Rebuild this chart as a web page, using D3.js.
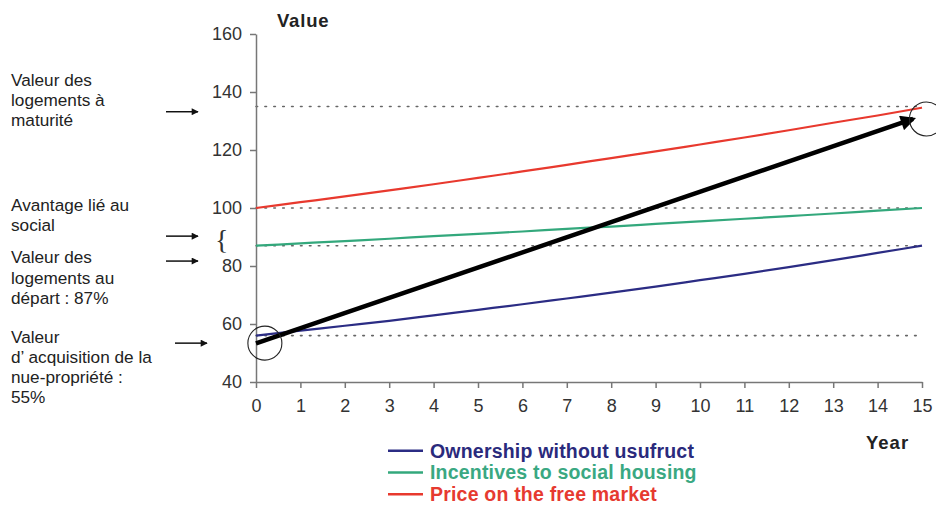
<!DOCTYPE html>
<html>
<head>
<meta charset="utf-8">
<script src="https://cdn.jsdelivr.net/npm/d3@7"></script>
<style>
  html, body { margin: 0; padding: 0; background: #fff; }
  svg { display: block; font-family: "Liberation Sans", Arial, sans-serif; }
</style>
</head>
<body>
<svg id="chart" width="936" height="507"></svg>
<script>
// Years on the horizontal axis
const years = [0, 1, 2, 3, 4, 5, 6, 7, 8, 9, 10, 11, 12, 13, 14, 15];

// Series values per year
const ownershipValues = [56, 57.7, 59.4, 61.1, 63.0, 64.9, 66.8, 68.8, 70.8, 72.9, 75.1, 77.3, 79.6, 82.0, 84.5, 87.0];
const incentiveValues = [87, 87.8, 88.6, 89.4, 90.3, 91.1, 91.9, 92.8, 93.6, 94.5, 95.4, 96.3, 97.2, 98.1, 99.1, 100];
const marketValues    = [100, 102, 104.0, 106.1, 108.2, 110.4, 112.6, 114.9, 117.2, 119.5, 121.9, 124.3, 126.8, 129.4, 131.9, 134.6];

const seriesNames  = ["Ownership without usufruct", "Incentives to social housing", "Price on the free market"];
const seriesColors = ["#2b2c84", "#33a87c", "#e8392e"];
const seriesTextColors = ["#2a2a7c", "#3aa882", "#e63a30"];

// Tick labels
const yTicks = [40, 60, 80, 100, 120, 140, 160];
const xTicks = years;

// Dotted reference levels
const referenceLevels = [135, 100, 87, 56];

// Trend arrow (start and end) and the two highlight circles
const arrowYears  = [0, 14.8];
const arrowValues = [53.3, 130.7];
const circleYears  = [0.2, 15.1];
const circleValues = [53.4, 130.7];

// Left-hand annotations: lines of text and the value each arrow points at
const annotations = [
  { lines: ["Valeur des", "logements à", "maturité"], top: 85.5, arrowValue: 133.2, arrowStart: 166 },
  { lines: ["Avantage lié au", "social"], top: 210.7, arrowValue: 90.3, arrowStart: 166 },
  { lines: ["Valeur des", "logements au", "départ : 87%"], top: 263.3, arrowValue: 81.7, arrowStart: 166 },
  { lines: ["Valeur", "d\u2019 acquisition de la", "nue-propriété :", "55%"], top: 342.7, arrowValue: 53.4, arrowStart: 175 }
];

const svg = d3.select("#chart");

const x = d3.scaleLinear().domain([0, 15]).range([256, 922]);
const y = d3.scaleLinear().domain([40, 160]).range([382, 34]);

// Arrowhead markers
const defs = svg.append("defs");
defs.append("marker")
  .attr("id", "bigHead").attr("viewBox", "0 0 10 10")
  .attr("refX", 8).attr("refY", 5)
  .attr("markerWidth", 4.0).attr("markerHeight", 3.4)
  .attr("markerUnits", "strokeWidth")
  .attr("orient", "auto")
  .append("path").attr("d", "M0,0 L10,5 L0,10 Z").attr("fill", "#000");
defs.append("marker")
  .attr("id", "smallHead").attr("viewBox", "0 0 10 10")
  .attr("refX", 9).attr("refY", 5)
  .attr("markerWidth", 8).attr("markerHeight", 7)
  .attr("markerUnits", "userSpaceOnUse")
  .attr("orient", "auto")
  .append("path").attr("d", "M0,0 L10,5 L0,10 Z").attr("fill", "#111");

// Dotted reference lines
svg.append("g").selectAll("line")
  .data(referenceLevels).join("line")
  .attr("x1", x(0)).attr("x2", x(15))
  .attr("y1", d => y(d)).attr("y2", d => y(d))
  .attr("stroke", "#666").attr("stroke-width", 1.6)
  .attr("stroke-dasharray", "1.6,7.3")
  .attr("stroke-linecap", "round");

// Axes
const yAxis = svg.append("g")
  .attr("transform", `translate(${x(0)},0)`)
  .call(d3.axisLeft(y).tickValues(yTicks).tickSize(6).tickPadding(8).tickSizeOuter(0));
const xAxis = svg.append("g")
  .attr("transform", `translate(0,${y(40)})`)
  .call(d3.axisBottom(x).tickValues(xTicks).tickSize(6).tickPadding(11).tickSizeOuter(0));
[yAxis, xAxis].forEach(g => {
  g.select(".domain").attr("stroke", "#777").attr("stroke-width", 1.5);
  g.selectAll(".tick line").attr("stroke", "#777").attr("stroke-width", 1.5);
  g.selectAll(".tick text")
    .attr("fill", "#333")
    .style("font-family", "'Liberation Sans', Arial, sans-serif")
    .style("font-size", "18px");
});

// Axis titles
svg.append("text").attr("x", 277).attr("y", 27)
  .attr("font-size", 18.5).attr("font-weight", "bold").attr("fill", "#222")
  .attr("letter-spacing", 0.8).text("Value");
svg.append("text").attr("x", 866).attr("y", 449)
  .attr("font-size", 18.5).attr("font-weight", "bold").attr("fill", "#222")
  .attr("letter-spacing", 1).text("Year");

// Series lines
const seriesValues = [ownershipValues, incentiveValues, marketValues];
const line = d3.line()
  .x((d, i) => x(years[i]))
  .y(d => y(d))
  .curve(d3.curveMonotoneX);
svg.append("g").selectAll("path")
  .data(seriesValues).join("path")
  .attr("d", d => line(d))
  .attr("fill", "none")
  .attr("stroke", (d, i) => seriesColors[i])
  .attr("stroke-width", 2.2);

// Trend arrow
svg.append("line")
  .attr("x1", x(arrowYears[0])).attr("y1", y(arrowValues[0]))
  .attr("x2", x(arrowYears[1])).attr("y2", y(arrowValues[1]))
  .attr("stroke", "#000").attr("stroke-width", 4.5)
  .attr("marker-end", "url(#bigHead)");

// Highlight circles
svg.append("g").selectAll("circle")
  .data(circleYears).join("circle")
  .attr("cx", d => x(d))
  .attr("cy", (d, i) => y(circleValues[i]))
  .attr("r", 17)
  .attr("fill", "none").attr("stroke", "#222").attr("stroke-width", 1.1);

// Left annotations with their pointing arrows
const ann = svg.append("g").attr("fill", "#222").attr("font-size", 17.2);
annotations.forEach(a => {
  a.lines.forEach((t, k) => {
    ann.append("text").attr("x", 11).attr("y", a.top + k * 20.2).text(t);
  });
  ann.append("line")
    .attr("x1", a.arrowStart).attr("x2", a.arrowStart + 32)
    .attr("y1", y(a.arrowValue)).attr("y2", y(a.arrowValue))
    .attr("stroke", "#111").attr("stroke-width", 1.5)
    .attr("marker-end", "url(#smallHead)");
});

// Brace spanning the social housing advantage
svg.append("text").attr("x", 215).attr("y", 249)
  .attr("font-family", "'Liberation Serif', serif")
  .attr("font-size", 28).attr("fill", "#333").text("{");

// Legend
const legend = svg.append("g");
seriesNames.forEach((name, i) => {
  const yy = 450.7 + i * 21.8;
  legend.append("line")
    .attr("x1", 388).attr("x2", 423).attr("y1", yy).attr("y2", yy)
    .attr("stroke", seriesColors[i]).attr("stroke-width", 2.4);
  legend.append("text")
    .attr("x", 430).attr("y", yy + 6.8)
    .attr("font-size", 19.5).attr("font-weight", "bold")
    .attr("letter-spacing", 0.2)
    .attr("fill", seriesTextColors[i]).text(name);
});
</script>
</body>
</html>
